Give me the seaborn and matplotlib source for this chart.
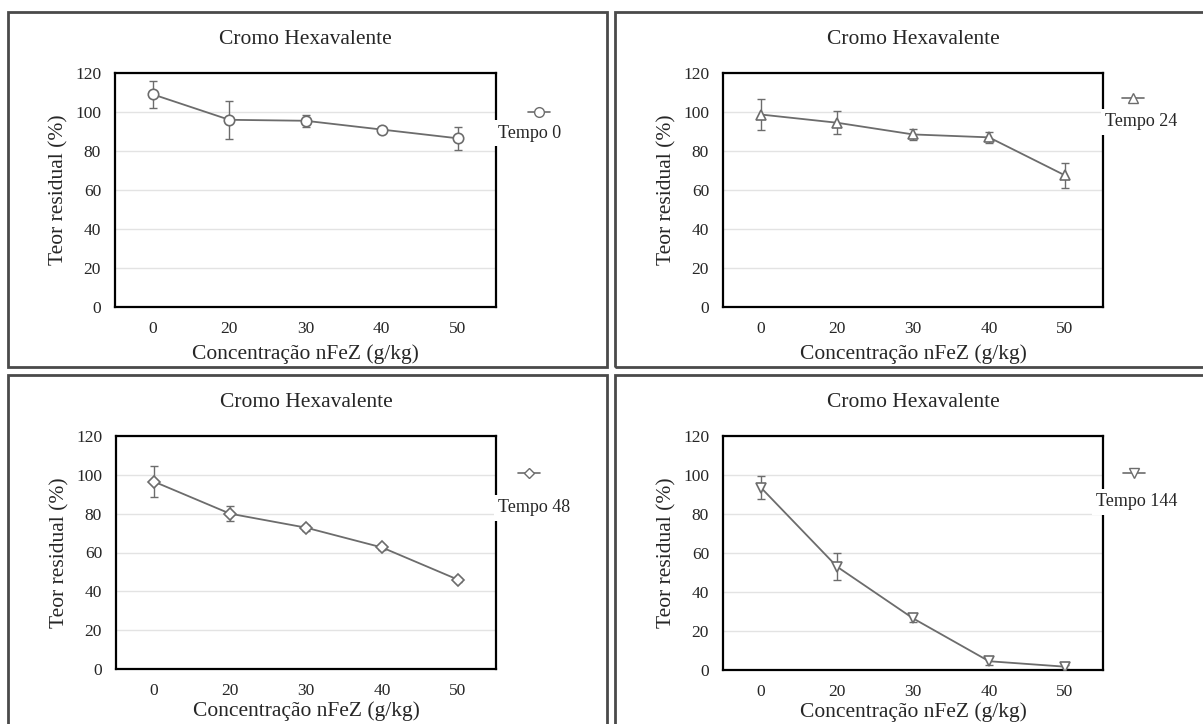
import numpy as np
import matplotlib
matplotlib.use("Agg")
import matplotlib.pyplot as plt
from matplotlib.patches import Rectangle
import seaborn as sns

# Dados: teor residual de Cr(VI) por concentracao de nFeZ
concentracao = ["0", "20", "30", "40", "50"]
tempos = ["Tempo 0", "Tempo 24", "Tempo 48", "Tempo 144"]
teor_t0 = [109, 96, 95.5, 91, 86.5]
erro_t0 = [7, 9.7, 3, 1.5, 6]
teor_t24 = [98.7, 94.5, 88.5, 87, 67.5]
erro_t24 = [8, 6, 3, 3, 6.5]
teor_t48 = [96.5, 80, 72.8, 62.6, 46]
erro_t48 = [8, 4, 1.5, 1.5, 1]
teor_t144 = [93.5, 53, 26.5, 4.5, 1.7]
erro_t144 = [6, 7, 2, 2, 1]
marcadores = ["o", "^", "D", "v"]

sns.set_style("white")
plt.rcParams["font.family"] = ["Liberation Serif", "DejaVu Serif"]

W, H = 1203, 724
fig = plt.figure(figsize=(W / 100, H / 100), dpi=100)

# caixas dos paineis (px: x0, y0 topo, x1, y1)
caixas = [(8, 12, 607, 367), (615, 12, 1210, 367),
          (8, 375, 607, 730), (615, 375, 1210, 730)]
# area do grafico (px)
areas = [(115, 73, 496, 307), (723, 73, 1103, 307),
         (116, 436, 496, 669), (723, 436, 1103, 670)]
# legenda: marcador (x, y) e texto (x, y) em px
leg_marc = [(539, 112), (1133, 98), (529, 473), (1134, 473)]
leg_txt = [(530, 133), (1141, 122), (534, 508), (1137, 502)]
mksize = [7.5, 7, 6, 7.5]
xpad = [5, 5, 1.5, 1.5]

teores = [teor_t0, teor_t24, teor_t48, teor_t144]
erros = [erro_t0, erro_t24, erro_t48, erro_t144]

cor_linha = "#6c6c6c"

for i in range(4):
    x0, y0, x1, y1 = caixas[i]
    fig.patches.append(Rectangle((x0 / W, 1 - y1 / H), (x1 - x0) / W, (y1 - y0) / H,
                                 transform=fig.transFigure, fill=False,
                                 edgecolor="#4a4a4a", lw=2))
    ax0, ay0, ax1, ay1 = areas[i]
    ax = fig.add_axes([ax0 / W, 1 - ay1 / H, (ax1 - ax0) / W, (ay1 - ay0) / H])
    ax.errorbar(concentracao, teores[i], yerr=erros[i], fmt="none",
                ecolor=cor_linha, elinewidth=1, capsize=3, zorder=2)
    sns.lineplot(x=concentracao, y=teores[i], ax=ax, sort=False, color=cor_linha,
                 lw=1.3, marker=marcadores[i], markersize=mksize[i],
                 markerfacecolor="white", markeredgecolor=cor_linha,
                 markeredgewidth=1.2, zorder=3)
    ax.set_xlim(-0.5, 4.5)
    ax.set_ylim(0, 120)
    ax.set_yticks(np.arange(0, 121, 20))
    ax.yaxis.grid(True, color="#e3e3e3", lw=1)
    ax.set_axisbelow(True)
    for s in ax.spines.values():
        s.set_color("black")
        s.set_linewidth(1.6)
    ax.tick_params(axis="both", length=0, labelsize=12.5, pad=10)
    ax.set_xlabel("Concentração nFeZ (g/kg)", fontsize=15.5, labelpad=xpad[i])
    ax.set_ylabel("Teor residual (%)", fontsize=15.5, labelpad=5)
    ax.set_title("Cromo Hexavalente", fontsize=15.5, pad=21)

    # legenda no estilo Excel (marcador acima do texto)
    mx, my = leg_marc[i]
    fig.add_artist(plt.Line2D([mx / W - 0.009, mx / W + 0.009], [1 - my / H, 1 - my / H],
                              color=cor_linha, lw=1.2, transform=fig.transFigure))
    fig.add_artist(plt.Line2D([mx / W], [1 - my / H], color=cor_linha,
                              marker=marcadores[i], markersize=mksize[i] - 0.5,
                              markerfacecolor="white", markeredgecolor=cor_linha,
                              transform=fig.transFigure))
    tx, ty = leg_txt[i]
    fig.text(tx / W, 1 - ty / H, tempos[i], fontsize=13, ha="center", va="center",
             bbox=dict(facecolor="white", edgecolor="none", pad=3), zorder=5)

fig.savefig("out.png", dpi=100)
